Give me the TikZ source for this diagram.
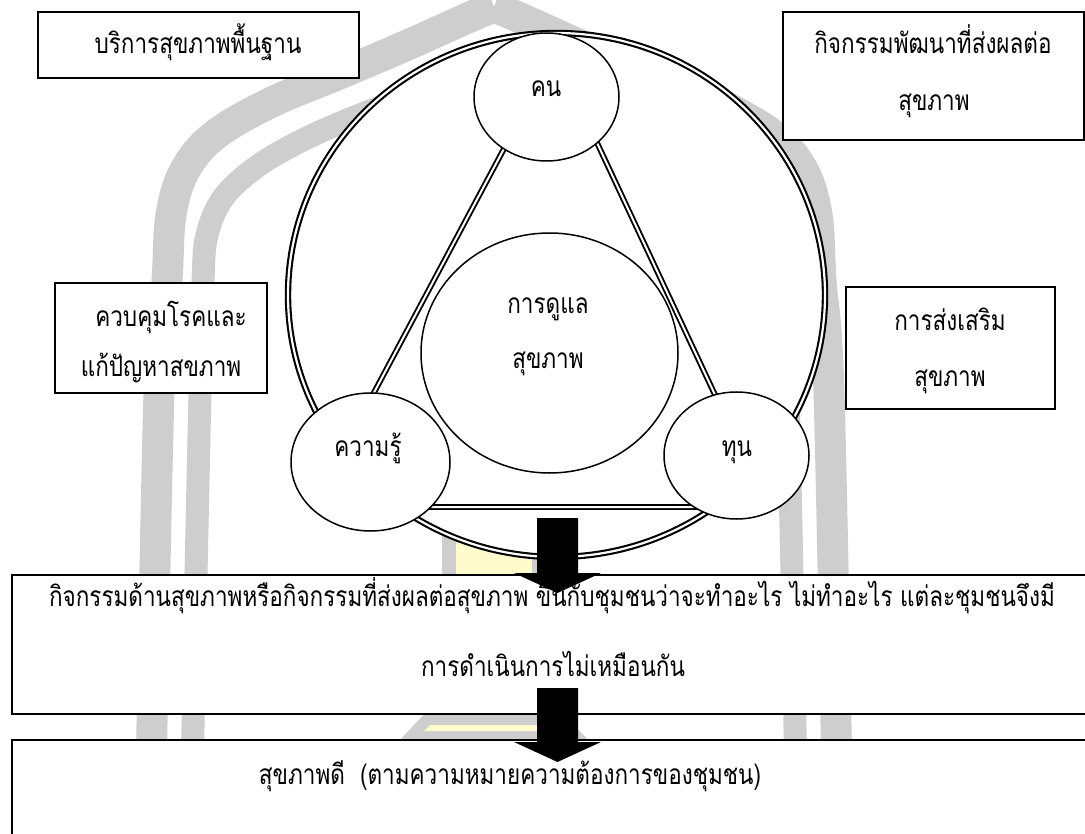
\documentclass[tikz,border=0pt]{standalone}
\usepackage{fontspec}
\usepackage{graphicx}
\newfontfamily\thaifont[Script=Thai]{Loma}
\usetikzlibrary{shapes.geometric}
\definecolor{wmgray}{RGB}{206,206,206}
\definecolor{wmyellow}{RGB}{255,251,205}

% one half of the arch emblem in the background (mirrored for the other half)
\newcommand\archhalf{%
  \draw[wmgray, line width=31pt] plot[smooth, tension=0.6] coordinates
    {(151,780) (159,393) (167,280) (171,215) (185,170) (215,135) (270,103)
     (337,75) (403,47) (470,17) (494,7)};
  \draw[wmgray, line width=23pt] plot[smooth, tension=0.6] coordinates
    {(192,780) (196,575) (200,393) (203,280) (207,235) (223,198) (255,168)
     (295,144) (345,121) (420,92) (494,62)};
}

% solid block arrow pointing down: start point, shaft length, head length
\newcommand\blockarrow[3]{%
  \fill[black] (#1) ++(-20.5,0) -- ++(41,0) -- ++(0,#2) -- ++(23,0)
    -- ++(-43.5,#3) -- ++(-43.5,-#3) -- ++(23,0) -- cycle;
}

% Thai label, slightly condensed and tall
\newcommand\tl[1]{\scalebox{1}[1.25]{#1}}

\begin{document}
\begin{tikzpicture}[x=1pt, y=-1pt,
  txt/.style={anchor=base, inner sep=0pt, font=\thaifont\fontsize{22.5}{27}\selectfont},
  box/.style={draw, line width=1.8pt, fill=white, rectangle, inner sep=0pt},
  bubble/.style={draw, line width=1.5pt, fill=white, ellipse, inner sep=0pt},
  dline/.style={double, double distance=2.2pt, line width=2.1pt},
]
\clip (0,0) rectangle (1085,834);
\fill[white] (0,0) rectangle (1085,834);

% background emblem
\archhalf
\begin{scope}[xshift=988pt, xscale=-1]
  \archhalf
\end{scope}
\fill[wmgray] (442,400) rectangle (546,780);
\fill[wmyellow] (456,400) rectangle (532,780);
\fill[wmgray] (398,742) -- (432,706) -- (556,706) -- (590,742) -- cycle;
\fill[wmyellow] (424,731) -- (430,725) -- (558,725) -- (564,731) -- cycle;

% side boxes
\node[box, minimum width=321pt, minimum height=66pt] (basic) at (198.5,45) {};
\node[box, minimum width=301pt, minimum height=128pt] (devel) at (933.5,76) {};
\node[box, minimum width=212pt, minimum height=110pt] (control) at (161,338) {};
\node[box, minimum width=209pt, minimum height=122pt] (promo) at (950.5,348) {};

\node[txt] (basicT) at (198,54) {\tl{บริการสุขภาพพื้นฐาน}};
\node[txt] (develT1) at (933,54) {\tl{กิจกรรมพัฒนาที่ส่งผลต่อ}};
\node[txt] (develT2) at (934,111) {\tl{สุขภาพ}};
\node[txt] (controlT1) at (171,327) {\tl{ควบคุมโรคและ}};
\node[txt] (controlT2) at (161,377) {\tl{แก้ปัญหาสขภาพ}};
\node[txt] (promoT1) at (950,331) {\tl{การส่งเสริม}};
\node[txt] (promoT2) at (950,387) {\tl{สุขภาพ}};

% outer ring and the triangle of resources
\node[draw, dline, fill=white, ellipse, inner sep=0pt,
      minimum width=537pt, minimum height=524pt] (ring) at (556.5,295) {};
\coordinate (vTop) at (555,53);
\coordinate (vLeft) at (313,507);
\coordinate (vRight) at (767.5,507);
\draw[dline, line width=1.9pt, double distance=2pt, line join=round]
  (vTop) -- (vLeft) -- (vRight) -- cycle;

% centre and corner bubbles
\node[bubble, minimum width=257pt, minimum height=240pt] (care) at (549.5,353) {};
\node[txt] (careT1) at (548,314) {\tl{การดูแล}};
\node[txt] (careT2) at (548,369) {\tl{สุขภาพ}};

\node[bubble, minimum width=145pt, minimum height=128pt] (people) at (546.5,97) {};
\node[bubble, minimum width=159pt, minimum height=138pt] (know) at (370.5,462) {};
\node[bubble, minimum width=145pt, minimum height=127pt] (fund) at (736.5,455.5) {};
\node[txt] (peopleT) at (546,97) {\tl{คน}};
\node[txt] (knowT) at (368,456) {\tl{ความรู้}};
\node[txt] (fundT) at (737,456) {\tl{ทุน}};

% outcome boxes
\node[box, minimum width=1083pt, minimum height=139pt] (activity) at (553.5,644.5) {};
\node[box, minimum width=1083pt, minimum height=120pt] (health) at (553.5,800) {};
\node[txt] (activityT1) at (552,606) {\tl{กิจกรรมด้านสุขภาพหรือกิจกรรมที่ส่งผลต่อสุขภาพ ขึ้นกับชุมชนว่าจะทำอะไร ไม่ทำอะไร แต่ละชุมชนจึงมี}};
\node[txt] (activityT2) at (553,676) {\tl{การดำเนินการไม่เหมือนกัน}};
\node[txt] (healthT) at (510,784) {\tl{สุขภาพดี\ \ (ตามความหมายความต้องการของชุมชน)}};

% flow arrows
\coordinate (arrowOne) at (557.5,518);
\coordinate (arrowTwo) at (557.5,688);
\blockarrow{arrowOne}{55}{20}
\blockarrow{arrowTwo}{54}{20}
\end{tikzpicture}
\end{document}
